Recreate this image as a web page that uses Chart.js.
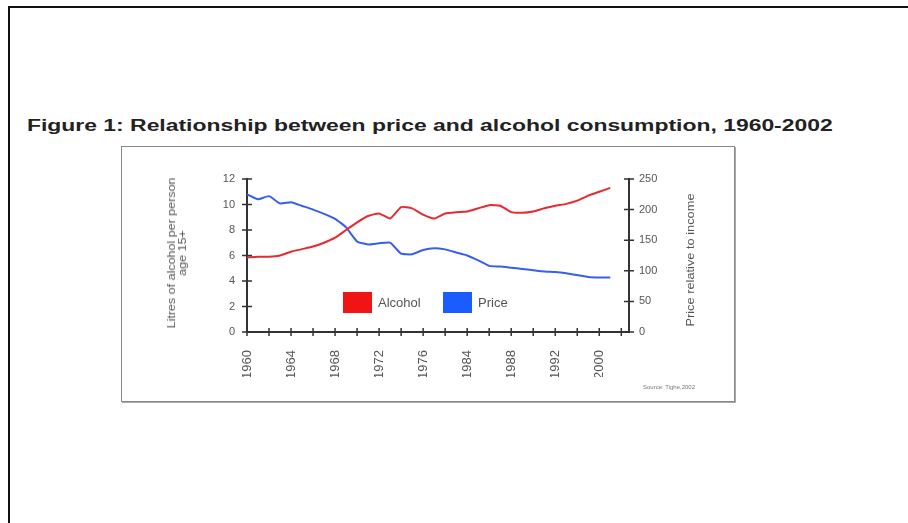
<!DOCTYPE html>
<html>
<head>
<meta charset="utf-8">
<script src="https://cdn.jsdelivr.net/npm/chart.js@4.4.1/dist/chart.umd.min.js"></script>
<style>
  html, body { margin: 0; padding: 0; background: #fff; }
  body { width: 908px; height: 523px; position: relative; overflow: hidden; font-family: "Liberation Sans", Arial, sans-serif; }
  #outer { position: absolute; left: 8px; top: 6px; right: -10px; bottom: -10px; border-top: 2px solid #111; border-left: 2px solid #111; }
  #title { position: absolute; left: 27px; top: 117px; font-weight: bold; font-size: 16px; color: #222; white-space: nowrap; transform-origin: 0 0; }
  #frame { position: absolute; left: 121px; top: 146px; width: 612px; height: 254px; border: 1px solid #888; box-shadow: 1px 1px 0 #aaa; }
  #chartBox { position: absolute; left: 0; top: 0; width: 908px; height: 523px; }
  .rot { position: absolute; white-space: nowrap; text-align: center; color: #555; font-size: 10px; line-height: 11px; }
  #source { position: absolute; left: 643px; top: 384px; font-size: 6px; color: #777; white-space: nowrap; }
</style>
</head>
<body>
<div id="outer"></div>
<div id="title">Figure 1: Relationship between price and alcohol consumption, 1960-2002</div>
<div id="frame"></div>
<div id="chartBox"><canvas id="chart" width="908" height="523"></canvas></div>
<div class="rot" style="left:177px; top:253px; transform: translate(-50%, -50%) rotate(-90deg) scaleX(1.25);">Litres of alcohol per person<br>age 15+</div>
<div class="rot" style="left:690px; top:260px; transform: translate(-50%, -50%) rotate(-90deg) scaleX(1.28);">Price relative to income</div>
<div id="source">Source: Tighe,2002</div>
<script>
// x tick labels (as printed on the original, one every 4 steps)
const xTickLabels = ['1960', '1964', '1968', '1972', '1976', '1984', '1988', '1992', '2000'];

// Litres of alcohol per person age 15+ (left axis)
const alcohol = [5.85, 5.9, 5.9, 6.0, 6.3, 6.5, 6.7, 7.0, 7.4, 8.0, 8.6, 9.1, 9.3, 8.9, 9.8, 9.7, 9.2,
  8.9, 9.3, 9.4, 9.45, 9.7, 9.95, 9.9, 9.4, 9.35, 9.45, 9.7, 9.9, 10.05, 10.3, 10.7, 11.0, 11.3];

// Price relative to income (right axis)
const price = [225, 217, 222, 210, 212, 206, 200, 193, 185, 171, 148, 143, 145, 146, 128, 127, 134,
  137, 135, 130, 125, 117, 108, 107, 105, 103, 101, 99, 98, 96, 93, 90, 89, 89];

const leftTicks = [0, 2, 4, 6, 8, 10, 12];
const rightTicks = [0, 50, 100, 150, 200, 250];

// stretch the title to the width it has on the picture
const title = document.getElementById('title');
title.style.transform = 'scaleX(' + (806 / title.offsetWidth) + ')';

// tick marks crossing the axes
const crossTicks = {
  id: 'crossTicks',
  afterDraw(chart) {
    const ctx = chart.ctx;
    const a = chart.chartArea;
    ctx.save();
    ctx.strokeStyle = '#333';
    ctx.lineWidth = 1.5;
    ctx.beginPath();
    chart.scales.x.ticks.forEach(function (t) {
      const px = chart.scales.x.getPixelForValue(t.value);
      ctx.moveTo(px, a.bottom - 4);
      ctx.lineTo(px, a.bottom + 4);
    });
    chart.scales.y.ticks.forEach(function (t) {
      const py = chart.scales.y.getPixelForValue(t.value);
      ctx.moveTo(a.left - 5, py);
      ctx.lineTo(a.left + 5, py);
    });
    chart.scales.y1.ticks.forEach(function (t) {
      const py = chart.scales.y1.getPixelForValue(t.value);
      ctx.moveTo(a.right - 5, py);
      ctx.lineTo(a.right + 5, py);
    });
    ctx.stroke();
    ctx.restore();
  }
};

// legend drawn inside the plot
const insideLegend = {
  id: 'insideLegend',
  afterDatasetsDraw(chart) {
    const ctx = chart.ctx;
    const spots = [[343, 292], [443, 292]];
    ctx.save();
    ctx.font = '13px "Liberation Sans", Arial, sans-serif';
    ctx.textBaseline = 'middle';
    chart.data.datasets.forEach(function (ds, i) {
      const [bx, by] = spots[i];
      ctx.fillStyle = ds.legendColor;
      ctx.fillRect(bx, by, 29, 21);
      ctx.fillStyle = '#555';
      ctx.fillText(ds.label, bx + 35, by + 11);
    });
    ctx.restore();
  }
};

new Chart(document.getElementById('chart'), {
  type: 'line',
  data: {
    datasets: [{
      label: 'Alcohol',
      data: alcohol.map((v, i) => ({ x: i, y: v })),
      borderColor: '#e62a30',
      legendColor: '#f01414',
      borderWidth: 2,
      pointRadius: 0,
      tension: 0.15,
      yAxisID: 'y'
    }, {
      label: 'Price',
      data: price.map((v, i) => ({ x: i, y: v })),
      borderColor: '#3560ee',
      legendColor: '#1a5cff',
      borderWidth: 2,
      pointRadius: 0,
      tension: 0.15,
      yAxisID: 'y1'
    }]
  },
  options: {
    responsive: false,
    animation: false,
    layout: { padding: { left: 207, right: 239, top: 179, bottom: 146 } },
    plugins: { legend: { display: false }, tooltip: { enabled: false } },
    scales: {
      x: {
        type: 'linear',
        min: 0,
        max: 34.7,
        afterFit(s) { s.height = 45; },
        grid: { display: false },
        border: { display: true, color: '#333', width: 2 },
        afterBuildTicks(s) {
          s.ticks = [];
          for (let v = 0; v <= 34; v += 2) s.ticks.push({ value: v });
        },
        ticks: {
          autoSkip: false,
          maxRotation: 90,
          minRotation: 90,
          padding: 10,
          color: '#555',
          font: { size: 13, family: '"Liberation Sans", Arial, sans-serif' },
          callback: v => (v % 4 === 0 ? xTickLabels[v / 4] : '')
        }
      },
      y: {
        position: 'left',
        min: 0,
        max: 12,
        afterFit(s) { s.width = 40; },
        afterBuildTicks(s) { s.ticks = leftTicks.map(v => ({ value: v })); },
        grid: { display: false },
        border: { display: true, color: '#333', width: 2 },
        ticks: { padding: 4, color: '#555', font: { size: 11, family: '"Liberation Sans", Arial, sans-serif' } }
      },
      y1: {
        position: 'right',
        min: 0,
        max: 250,
        afterFit(s) { s.width = 40; },
        afterBuildTicks(s) { s.ticks = rightTicks.map(v => ({ value: v })); },
        grid: { display: false },
        border: { display: true, color: '#333', width: 2 },
        ticks: { padding: 2, color: '#555', font: { size: 11, family: '"Liberation Sans", Arial, sans-serif' } }
      }
    }
  },
  plugins: [crossTicks, insideLegend]
});
</script>
</body>
</html>
